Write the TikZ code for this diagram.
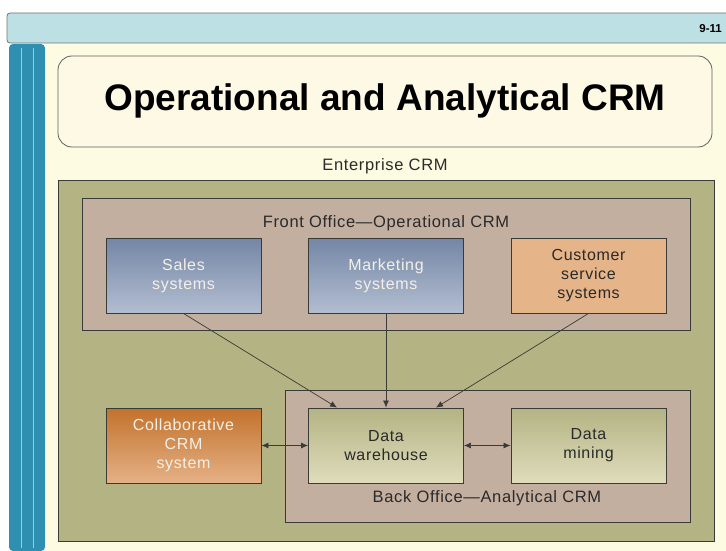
\documentclass[tikz,border=0pt]{standalone}
\usepackage{fontspec}
\setmainfont{Liberation Sans}
\newfontfamily\boxfont[LetterSpace=4]{Liberation Sans}
\usetikzlibrary{arrows.meta}
\definecolor{barblue}{HTML}{BCE0E4}
\definecolor{stripblue}{HTML}{2E8FB0}
\definecolor{stripline}{HTML}{8ED0EA}
\definecolor{cream}{HTML}{FDFBE1}
\definecolor{titlefill}{HTML}{FEF9E4}
\definecolor{olive}{HTML}{B3B383}
\definecolor{taupe}{HTML}{C3AFA0}
\definecolor{edge}{HTML}{3A3A36}
\definecolor{bluetop}{HTML}{7486A6}
\definecolor{bluebot}{HTML}{B2BDD0}
\definecolor{custfill}{HTML}{E5B488}
\definecolor{oltop}{HTML}{B3B384}
\definecolor{olbot}{HTML}{DFDDBC}
\definecolor{ortop}{HTML}{C2722C}
\definecolor{orbot}{HTML}{E5B186}
\definecolor{txtdark}{HTML}{2A2A2A}
\definecolor{txtlight}{HTML}{F4F0E6}
\tikzset{
  panel/.style={draw=edge, line width=0.9pt},
  sysbox/.style={draw=edge, line width=0.9pt, minimum width=155pt, minimum height=75pt,
    align=center, inner sep=0pt, font=\boxfont\fontsize{16}{19}\selectfont},
  bluebox/.style={sysbox, top color=bluetop, bottom color=bluebot, text=txtlight},
  custbox/.style={sysbox, fill=custfill, text=txtdark},
  olivebox/.style={sysbox, top color=oltop, bottom color=olbot, text=txtdark},
  orangebox/.style={sysbox, top color=ortop, bottom color=orbot, text=txtlight},
  heading/.style={font=\boxfont\fontsize{16.5}{19}\selectfont, text=txtdark, inner sep=0pt},
  flow/.style={draw=edge, line width=0.7pt, -{Latex[length=7pt,width=6pt]}},
  twoway/.style={draw=edge, line width=0.7pt, {Latex[length=7pt,width=6pt]}-{Latex[length=7pt,width=6pt]}}
}
\begin{document}
\begin{tikzpicture}[x=1pt,y=-1pt]
\useasboundingbox (0,0) rectangle (726,551);
\fill[white] (0,0) rectangle (726,551);
% slide background and header bar
\fill[cream] (45,43) rectangle (726,551);
\draw[fill=barblue, draw=edge!70, line width=0.8pt, rounded corners=3pt] (7,13) -- (730,13) -- (730,43) -- (7,43) -- cycle;
\node[font=\bfseries\fontsize{11.5}{13}\selectfont, anchor=east, inner sep=0pt] (pagenum) at (722,29) {9-11};
% left side strip
\fill[stripblue, rounded corners=4pt] (9,551) -- (9,44) -- (45,44) -- (45,551) -- cycle;
\draw[stripline, line width=0.8pt] (21,48) -- (21,548) (33,48) -- (33,548);
% title box
\draw[fill=titlefill, draw=edge!80, line width=0.8pt, rounded corners=14pt] (58,56) rectangle (712,147);
\node[font=\bfseries\fontsize{37}{40}\selectfont, text=black] (title) at (385,101) {Operational and Analytical CRM};
% enterprise panel
\node[heading] (enterprise) at (385,166) {Enterprise CRM};
\draw[panel, fill=olive] (58,180) rectangle (714,541);
% front office panel
\draw[panel, fill=taupe] (82,198) rectangle (690,330);
\node[heading] (front) at (386,223) {Front Office—Operational CRM};
% back office panel
\draw[panel, fill=taupe] (285,390) rectangle (690,522);
\node[heading] (back) at (487,498) {Back Office—Analytical CRM};
% systems
\node[bluebox] (sales) at (183.5,275.5) {Sales\\systems};
\node[bluebox] (mkt) at (386,275.5) {Marketing\\systems};
\node[custbox] (cust) at (588.5,275.5) {Customer\\service\\systems};
\node[orangebox] (collab) at (183.5,445.5) {Collaborative\\CRM\\system};
\node[olivebox] (dw) at (386,445.5) {Data\\warehouse};
\node[olivebox] (dm) at (588.5,445.5) {Data\\mining};
% connectors
\draw[flow] (sales.south) -- ([xshift=-49pt]dw.north);
\draw[flow] (mkt.south) -- (dw.north);
\draw[flow] (cust.south) -- ([xshift=50pt]dw.north);
\draw[twoway] (collab.east) -- (dw.west);
\draw[twoway] (dw.east) -- (dm.west);
\end{tikzpicture}
\end{document}
